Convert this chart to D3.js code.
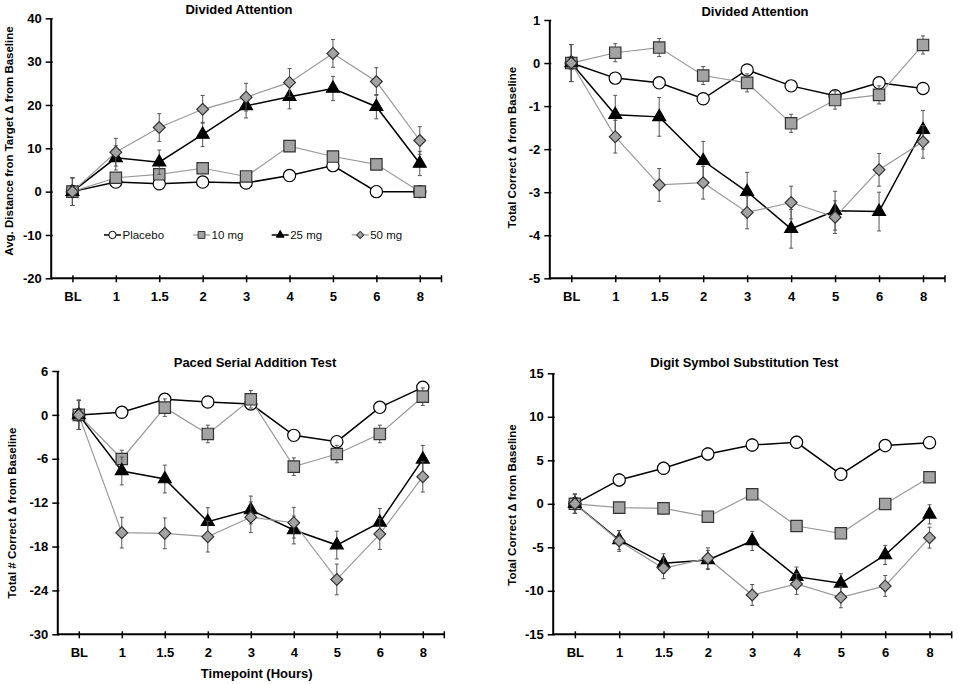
<!DOCTYPE html>
<html>
<head>
<meta charset="utf-8">
<script src="https://cdn.jsdelivr.net/npm/d3@7"></script>
<style>
  body { margin: 0; background: #fff; }
  svg { display: block; font-family: "Liberation Sans", Arial, sans-serif; }
</style>
</head>
<body>
<svg id="chart" width="959" height="684"></svg>
<script>
// ---------- data ----------
const timepoints = ["BL", "1", "1.5", "2", "3", "4", "5", "6", "8"];
const seriesNames = ["Placebo", "10 mg", "25 mg", "50 mg"];

// Panel A: Divided Attention – avg. distance from target
const daDistPlacebo = [0, 2.2, 1.8, 2.2, 2.0, 3.7, 6.0, 0.0, 0.0];
const daDist10mg    = [0, 3.2, 4.0, 5.4, 3.5, 10.5, 8.1, 6.3, 0.0];
const daDist25mg    = [0, 7.8, 6.8, 13.2, 19.8, 21.9, 23.8, 19.6, 6.5];
const daDist50mg    = [0, 9.1, 14.8, 19.0, 21.8, 25.2, 31.9, 25.4, 11.8];
const daDistErr     = [3.2, 3.2, 3.2, 3.2];          // BL error (all groups)
const daDistSem     = [0.8, 1.0, 2.8, 3.2];          // per group post-dose error
const daDistTicks   = [-20, -10, 0, 10, 20, 30, 40];

// Panel B: Divided Attention – total correct
const daCorPlacebo = [0, -0.35, -0.46, -0.83, -0.16, -0.53, -0.76, -0.46, -0.59];
const daCor10mg    = [0, 0.24, 0.36, -0.29, -0.46, -1.40, -0.86, -0.74, 0.42];
const daCor25mg    = [0, -1.20, -1.25, -2.27, -2.99, -3.85, -3.43, -3.45, -1.55];
const daCor50mg    = [0, -1.71, -2.83, -2.78, -3.47, -3.24, -3.58, -2.48, -1.83];
const daCorErr     = [0.43, 0.43, 0.43, 0.43];
const daCorSem     = [0.1, 0.21, 0.45, 0.38];
const daCorTicks   = [-5, -4, -3, -2, -1, 0, 1];

// Panel C: Paced Serial Addition Test
const psPlacebo = [0, 0.35, 2.13, 1.76, 1.5, -2.8, -3.66, 1.03, 3.77];
const ps10mg    = [0, -6.03, 0.99, -2.61, 2.13, -7.08, -5.35, -2.61, 2.49];
const ps25mg    = [0, -7.67, -8.77, -14.6, -13.0, -15.74, -17.8, -14.7, -6.08];
const ps50mg    = [0, -16.1, -16.2, -16.65, -14.0, -14.74, -22.5, -16.3, -8.45];
const psErr     = [2.0, 2.0, 2.0, 2.0];
const psSem     = [0.5, 1.2, 1.9, 2.1];
const psTicks   = [-30, -24, -18, -12, -6, 0, 6];

// Panel D: Digit Symbol Substitution Test
const dsPlacebo = [0, 2.74, 4.08, 5.73, 6.76, 7.07, 3.39, 6.69, 7.03];
const ds10mg    = [0, -0.44, -0.52, -1.48, 1.09, -2.55, -3.39, -0.02, 3.05];
const ds25mg    = [0, -4.16, -6.84, -6.46, -4.27, -8.37, -9.14, -5.88, -1.21];
const ds50mg    = [0, -4.27, -7.41, -6.26, -10.48, -9.21, -10.75, -9.44, -3.89];
const dsErr     = [1.1, 1.1, 1.1, 1.1];
const dsSem     = [0.7, 0.3, 1.1, 1.2];
const dsTicks   = [-15, -10, -5, 0, 5, 10, 15];

// ---------- styles ----------
const styles = [
  { line: "#000", lw: 1.5, fill: "#fff",    stroke: "#000", sym: "circle"   },
  { line: "#9a9a9a", lw: 1.2, fill: "#a3a3a3", stroke: "#333", sym: "square" },
  { line: "#000", lw: 1.5, fill: "#000",    stroke: "#000", sym: "triangle" },
  { line: "#9a9a9a", lw: 1.2, fill: "#a3a3a3", stroke: "#333", sym: "diamond" }
];

function symPath(kind, scale) {
  const s = scale || 1;
  if (kind === "circle") return d3.symbol(d3.symbolCircle, 118 * s * s)();
  if (kind === "square") return d3.symbol(d3.symbolSquare, 130 * s * s)();
  if (kind === "triangle") return d3.symbol(d3.symbolTriangle, 72 * s * s)();
  return d3.symbol(d3.symbolSquare, 70 * s * s)();
}

const svg = d3.select("#chart");

function panel(cfg) {
  const g = svg.append("g");
  const x = d3.scalePoint().domain(timepoints).range([cfg.x0, cfg.x1]).padding(0.5);
  const y = d3.scaleLinear().domain([cfg.ticks[0], cfg.ticks[cfg.ticks.length - 1]]).range([cfg.y0, cfg.y1]);

  // y axis
  const yAxis = g.append("g").attr("transform", `translate(${cfg.x0},0)`)
    .call(d3.axisLeft(y).tickValues(cfg.ticks).tickFormat(d => String(d))
      .tickSize(4).tickSizeOuter(0).tickPadding(5));
  yAxis.select(".domain").attr("stroke", "#000").attr("stroke-width", 2);
  yAxis.selectAll(".tick line").attr("stroke", "#000").attr("stroke-width", 1.5).attr("x2", -5).attr("x1", 2);
  yAxis.selectAll(".tick text").attr("font-size", 13).attr("font-weight", "bold").attr("fill", "#000");

  // x axis
  const xAxis = g.append("g").attr("transform", `translate(0,${cfg.y0})`)
    .call(d3.axisBottom(x).tickSize(4).tickSizeOuter(0).tickPadding(9));
  xAxis.select(".domain").attr("stroke", "#000").attr("stroke-width", 2)
    .attr("d", `M${cfg.x0},0H${cfg.x1}`);
  xAxis.selectAll(".tick line").attr("stroke", "#000").attr("stroke-width", 1.5).attr("y1", -3).attr("y2", 4);
  xAxis.selectAll(".tick text").attr("font-size", 13).attr("font-weight", "bold").attr("fill", "#000");
  xAxis.append("line").attr("x1", cfg.x1).attr("x2", cfg.x1).attr("y1", -3).attr("y2", 4)
    .attr("stroke", "#000").attr("stroke-width", 1.5);

  // title
  g.append("text").attr("x", cfg.tx).attr("y", cfg.ty).attr("text-anchor", "middle")
    .attr("dominant-baseline", "central").attr("font-size", 13).attr("font-weight", "bold")
    .text(cfg.title);
  // y label
  g.append("text").attr("transform", `translate(${cfg.lx},${cfg.ly}) rotate(-90)`)
    .attr("text-anchor", "middle").attr("dominant-baseline", "central")
    .attr("font-size", 11.5).attr("font-weight", "bold").text(cfg.ylabel);

  const line = d3.line().x((d, i) => x(timepoints[i])).y(d => y(d));
  // lines
  cfg.series.forEach((vals, si) => {
    g.append("path").datum(vals).attr("d", line).attr("fill", "none")
      .attr("stroke", styles[si].line).attr("stroke-width", styles[si].lw);
  });
  // error bars + markers
  cfg.series.forEach((vals, si) => {
    const eg = g.append("g").attr("stroke", "#555").attr("stroke-width", 1);
    vals.forEach((v, i) => {
      const e = i === 0 ? cfg.blErr[si] : cfg.sem[si];
      const cx = x(timepoints[i]);
      eg.append("line").attr("x1", cx).attr("x2", cx).attr("y1", y(v - e)).attr("y2", y(v + e));
      eg.append("line").attr("x1", cx - 2).attr("x2", cx + 2).attr("y1", y(v - e)).attr("y2", y(v - e));
      eg.append("line").attr("x1", cx - 2).attr("x2", cx + 2).attr("y1", y(v + e)).attr("y2", y(v + e));
    });
    g.append("g").selectAll("path").data(vals).join("path")
      .attr("d", symPath(styles[si].sym))
      .attr("transform", (d, i) => `translate(${x(timepoints[i])},${y(d)})` + (styles[si].sym === "diamond" ? " rotate(45)" : ""))
      .attr("fill", styles[si].fill).attr("stroke", styles[si].stroke).attr("stroke-width", 1.2);
  });
  return { g, x, y };
}

const p1 = panel({
  x0: 50.7, x1: 441.5, y0: 278.3, y1: 18.3, ticks: daDistTicks,
  title: "Divided Attention", tx: 239, ty: 9,
  ylabel: "Avg. Distance fron Target \u0394 from Baseline", lx: 8.5, ly: 141,
  series: [daDistPlacebo, daDist10mg, daDist25mg, daDist50mg], blErr: daDistErr, sem: daDistSem
});
panel({
  x0: 549.3, x1: 945, y0: 278.3, y1: 20, ticks: daCorTicks,
  title: "Divided Attention", tx: 755, ty: 11.7,
  ylabel: "Total Correct \u0394 from Baseline", lx: 511.7, ly: 147.5,
  series: [daCorPlacebo, daCor10mg, daCor25mg, daCor50mg], blErr: daCorErr, sem: daCorSem
});
panel({
  x0: 57.3, x1: 444.3, y0: 634.3, y1: 371, ticks: psTicks,
  title: "Paced Serial Addition Test", tx: 255, ty: 362.3,
  ylabel: "Total # Correct \u0394 from Baseline", lx: 12.3, ly: 513,
  series: [psPlacebo, ps10mg, ps25mg, ps50mg], blErr: psErr, sem: psSem
});
panel({
  x0: 552.7, x1: 951.7, y0: 634.3, y1: 373.3, ticks: dsTicks,
  title: "Digit Symbol Substitution Test", tx: 744.3, ty: 362.3,
  ylabel: "Total Correct \u0394 from Baseline", lx: 512.3, ly: 505,
  series: [dsPlacebo, ds10mg, ds25mg, ds50mg], blErr: dsErr, sem: dsSem
});

// x axis title (bottom-left)
svg.append("text").attr("x", 256.7).attr("y", 673.3).attr("text-anchor", "middle")
  .attr("dominant-baseline", "central").attr("font-size", 13).attr("font-weight", "bold")
  .text("Timepoint (Hours)");

// legend (inside panel A)
const legendX = [104, 193, 271.7, 351.7];
const legendY = p1.y(-10);
const lg = svg.append("g");
seriesNames.forEach((name, i) => {
  const item = lg.append("g").attr("transform", `translate(${legendX[i]},${legendY})`);
  item.append("line").attr("x1", 0).attr("x2", 17).attr("y1", 0).attr("y2", 0)
    .attr("stroke", styles[i].line).attr("stroke-width", styles[i].lw);
  item.append("path").attr("d", symPath(styles[i].sym, 0.6))
    .attr("transform", "translate(8.5,0)" + (styles[i].sym === "diamond" ? " rotate(45)" : ""))
    .attr("fill", styles[i].fill).attr("stroke", styles[i].stroke).attr("stroke-width", 1);
  item.append("text").attr("x", 18.5).attr("y", 0).attr("dominant-baseline", "central")
    .attr("font-size", 11.5).attr("fill", "#111").text(name);
});
</script>
</body>
</html>
